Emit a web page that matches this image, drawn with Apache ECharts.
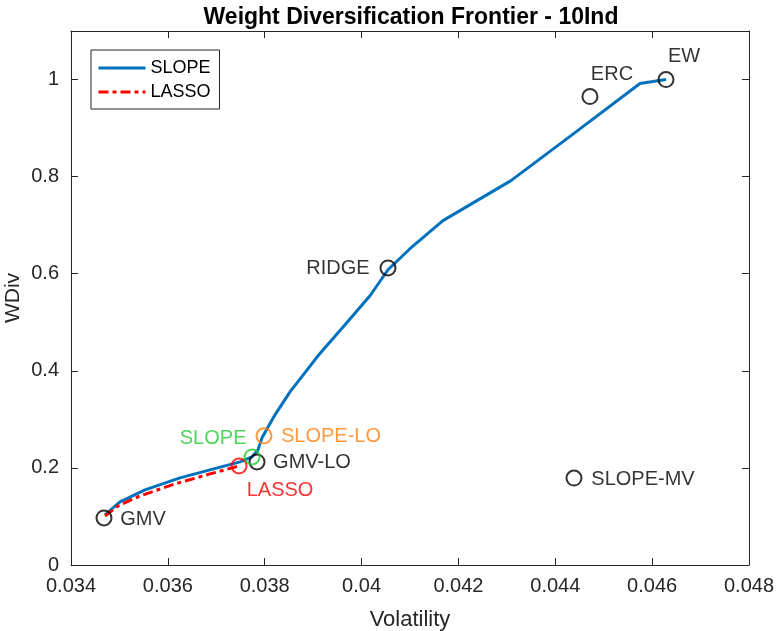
<!DOCTYPE html>
<html>
<head>
<meta charset="utf-8">
<script src="https://cdn.jsdelivr.net/npm/echarts@6/dist/echarts.min.js"></script>
<style>html,body{margin:0;padding:0;background:#fff;}#c{width:776px;height:631px;}</style>
</head>
<body>
<div id="c"></div>
<script>
// ---- data ----
const xTicks = [0.034, 0.036, 0.038, 0.04, 0.042, 0.044, 0.046, 0.048];
const yTicks = [0, 0.2, 0.4, 0.6, 0.8, 1];

const slopeX = [0.034702, 0.035012, 0.035528, 0.036251, 0.036870, 0.037490, 0.037737, 0.037861, 0.037944, 0.038212, 0.038522, 0.039100, 0.039658, 0.040174, 0.040545, 0.040999, 0.041681, 0.043085, 0.044407, 0.045749, 0.046286];
const slopeY = [0.1031, 0.1299, 0.1546, 0.1794, 0.1959, 0.2124, 0.2227, 0.2371, 0.2619, 0.3093, 0.3567, 0.4309, 0.4948, 0.5546, 0.6082, 0.6515, 0.7093, 0.7918, 0.8907, 0.9918, 1.0];

const lassoX = [0.034702, 0.034970, 0.035425, 0.036147, 0.036870, 0.037469];
const lassoY = [0.1010, 0.1216, 0.1423, 0.1670, 0.1876, 0.2041];

const markerNames = ['GMV', 'GMV-LO', 'LASSO', 'SLOPE', 'SLOPE-LO', 'RIDGE', 'ERC', 'EW', 'SLOPE-MV'];
const markerX = [0.034681, 0.037841, 0.037470, 0.037740, 0.037985, 0.040545, 0.044716, 0.046286, 0.044386];
const markerY = [0.0969, 0.2124, 0.2041, 0.2227, 0.2660, 0.6120, 0.9650, 1.0000, 0.1790];

// ---- styles ----
const markerColor = {'GMV':'#000','GMV-LO':'#000','LASSO':'#ff0000','SLOPE':'#22cc33','SLOPE-LO':'#ff7f10','RIDGE':'#000','ERC':'#000','EW':'#000','SLOPE-MV':'#000'};
const labelOffset = {'GMV':[39,2],'GMV-LO':[55,1],'LASSO':[41,25],'SLOPE':[-39,-18],'SLOPE-LO':[67,1],'RIDGE':[-50,1],'ERC':[22,-22],'EW':[18,-23],'SLOPE-MV':[69,1]};

const FONT = 'Liberation Sans, Arial, Helvetica, sans-serif';
const AX = '#262626';

const chart = echarts.init(document.getElementById('c'), null, {renderer:'canvas'});

const markerData = markerNames.map((n,i)=>({
  name:n,
  value:[markerX[i], markerY[i]],
  itemStyle:{color:'rgba(0,0,0,0)', borderColor:markerColor[n], borderWidth:2},
  label:{show:true, formatter:n, position:'inside', offset:labelOffset[n], color:markerColor[n], fontSize:20, fontFamily:FONT}
}));

const fmt = v => String(parseFloat(v.toFixed(4)));

const option = {
  animation:false,
  backgroundColor:'#fff',
  title:{text:'Weight Diversification Frontier - 10Ind', left:406, textAlign:'center', top:1,
    textStyle:{fontSize:23, fontWeight:'bold', color:'#000', fontFamily:FONT}},
  grid:{left:71, right:27, top:31, bottom:66, show:false, containLabel:false, outerBoundsMode:'none'},
  legend:{
    left:91, top:50, orient:'vertical', itemWidth:47, itemHeight:14, itemGap:6,
    padding:[9,9,8,6], borderColor:AX, borderWidth:1, backgroundColor:'#fff',
    textStyle:{fontSize:18, color:'#000', fontFamily:FONT},
    itemStyle:{opacity:0},
    lineStyle:{width:3},
    data:['SLOPE','LASSO']
  },
  xAxis:[{
    type:'value', min:0.034, max:0.048, interval:0.002, position:'bottom',
    name:'Volatility', nameLocation:'middle', nameGap:44, nameMoveOverlap:false,
    nameTextStyle:{fontSize:22, color:AX, fontFamily:FONT},
    axisLine:{show:true, onZero:false, lineStyle:{color:AX, width:1}},
    axisTick:{show:true, inside:true, length:7, lineStyle:{color:AX}},
    axisLabel:{fontSize:20, color:AX, fontFamily:FONT, margin:11, formatter:fmt},
    splitLine:{show:false}
  },{
    type:'value', min:0.034, max:0.048, interval:0.002, position:'top',
    axisLine:{show:true, onZero:false, lineStyle:{color:AX, width:1}},
    axisTick:{show:true, inside:true, length:7, lineStyle:{color:AX}},
    axisLabel:{show:false}, splitLine:{show:false}
  }],
  yAxis:[{
    type:'value', min:0, max:1.1, interval:0.2, position:'left',
    name:'WDiv', nameLocation:'middle', nameGap:47, nameMoveOverlap:false,
    nameTextStyle:{fontSize:21, color:AX, fontFamily:FONT},
    axisLine:{show:true, onZero:false, lineStyle:{color:AX, width:1}},
    axisTick:{show:true, inside:true, length:7, lineStyle:{color:AX}, customValues:yTicks},
    axisLabel:{fontSize:20, color:AX, fontFamily:FONT, margin:12, customValues:yTicks, formatter:fmt},
    splitLine:{show:false}
  },{
    type:'value', min:0, max:1.1, interval:0.2, position:'right',
    axisLine:{show:true, onZero:false, lineStyle:{color:AX, width:1}},
    axisTick:{show:true, inside:true, length:7, lineStyle:{color:AX}, customValues:yTicks},
    axisLabel:{show:false}, splitLine:{show:false}
  }],
  series:[
    {name:'SLOPE', type:'line', xAxisIndex:0, yAxisIndex:0, showSymbol:false, symbol:'none',
     data:slopeX.map((x,i)=>[x, slopeY[i]]),
     lineStyle:{color:'#0072bd', width:3}, itemStyle:{color:'#0072bd'}, z:2},
    {name:'LASSO', type:'line', xAxisIndex:0, yAxisIndex:0, showSymbol:false, symbol:'none',
     data:lassoX.map((x,i)=>[x, lassoY[i]]),
     lineStyle:{color:'#ff0000', width:3, type:[10,4,4,4]}, itemStyle:{color:'#ff0000'}, z:3},
    {name:'markers', type:'scatter', xAxisIndex:0, yAxisIndex:0, symbol:'circle', symbolSize:15,
     data:markerData, z:5, emphasis:{disabled:true}}
  ]
};
chart.setOption(option);
</script>
</body>
</html>
